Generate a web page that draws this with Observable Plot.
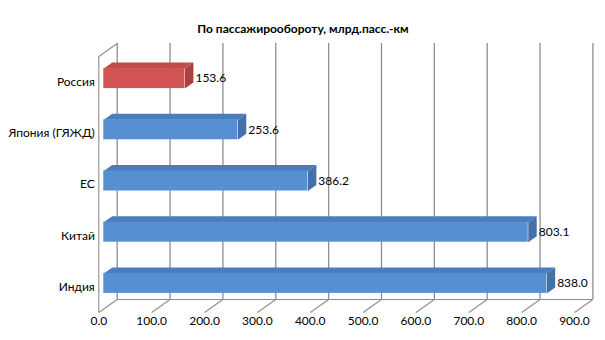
<!DOCTYPE html>
<html>
<head>
<meta charset="utf-8">
<script src="https://cdn.jsdelivr.net/npm/d3@7"></script>
<script src="https://cdn.jsdelivr.net/npm/@observablehq/plot@0.6"></script>
<style>
  html, body { margin: 0; padding: 0; background: #fff; }
  svg { display: block; }
</style>
</head>
<body>
<div id="chart"></div>
<script>
// ---- data ----
const title = "По пассажирообороту, млрд.пасс.-км";
const categories = ["Россия", "Япония (ГЯЖД)", "ЕС", "Китай", "Индия"];
const values = [153.6, 253.6, 386.2, 803.1, 838.0];
const xTicks = [0, 100, 200, 300, 400, 500, 600, 700, 800, 900];
const highlighted = "Россия";

// ---- layout ----
const W = 605, H = 340;
const mL = 98.3, mR = 31, mT = 56, mB = 28;
const xMax = 900, nCat = categories.length;
const kx = (W - mL - mR) / xMax;       // px per x unit (front plane)
const ky = (H - mT - mB) / nCat;       // px per category
const DEPTH_X = 18.4, DEPTH_Y = -13;   // oblique depth offset, px
const DXu = DEPTH_X / kx, DYu = DEPTH_Y / ky;
const f0 = 0.27, f1 = 0.73;            // bar front/back depth fraction
const half = 10 / ky;                  // half bar height

const palette = {
  blue: {front: "#5590d3", top: "#4a7dbf", side: "#4471a9"},
  red:  {front: "#d35553", top: "#c24c4a", side: "#a94341"}
};
const col = d => d.cat === highlighted ? palette.red : palette.blue;

const rows = categories.map((cat, i) => ({cat, value: values[i], i}));

function poly(d, verts, face) {
  return verts.map(([x, y, f]) => ({
    cat: d.cat, x: x + f * DXu, y: y + f * DYu, fill: col(d)[face]
  }));
}
const topPts = rows.flatMap(d => {
  const yt = d.i + 0.5 - half;
  return poly(d, [[0, yt, f0], [d.value, yt, f0], [d.value, yt, f1], [0, yt, f1]], "top");
});
const sidePts = rows.flatMap(d => {
  const yt = d.i + 0.5 - half, yb = d.i + 0.5 + half;
  return poly(d, [[d.value, yt, f0], [d.value, yt, f1], [d.value, yb, f1], [d.value, yb, f0]], "side");
});

const gridColor = "#8e8e8e";
const font = "Lato, 'Open Sans', sans-serif";

const chart = Plot.plot({
  width: W, height: H,
  marginLeft: mL, marginRight: mR, marginTop: mT, marginBottom: mB,
  style: {fontFamily: font, background: "#fff"},
  x: {domain: [0, xMax], label: null},
  y: {domain: [0, nCat], reverse: true, label: null},
  color: {type: "identity"},
  marks: [
    // back wall gridlines
    Plot.ruleX(xTicks, {x: t => t + DXu, y1: DYu, y2: nCat + DYu, stroke: gridColor, strokeWidth: 1.3}),
    // floor
    Plot.ruleY([nCat + DYu], {x1: DXu, x2: xMax + DXu, stroke: gridColor, strokeWidth: 1.1}),
    Plot.link(xTicks, {x1: t => t, y1: nCat, x2: t => t + DXu, y2: nCat + DYu, stroke: gridColor, strokeWidth: 1.1}),
    // left wall
    Plot.ruleX([0], {y1: 0, y2: nCat, stroke: gridColor, strokeWidth: 1.1}),
    Plot.link([0], {x1: 0, y1: 0, x2: DXu, y2: DYu, stroke: gridColor, strokeWidth: 1.1}),
    // bars
    Plot.line(topPts, {x: "x", y: "y", z: "cat", fill: "fill", stroke: "none", curve: "linear-closed"}),
    Plot.line(sidePts, {x: "x", y: "y", z: "cat", fill: "fill", stroke: "none", curve: "linear-closed"}),
    Plot.rect(rows, {
      x1: f0 * DXu, x2: d => d.value + f0 * DXu,
      y1: d => d.i + 0.5 + f0 * DYu - half, y2: d => d.i + 0.5 + f0 * DYu + half,
      fill: d => col(d).front
    }),
    // value labels
    Plot.text(rows, {
      x: d => d.value + f1 * DXu, y: d => d.i + 0.5 + f0 * DYu,
      text: d => d.value.toFixed(1), textAnchor: "start", dx: 2, fontSize: 12, fill: "#000"
    }),
    // axes
    Plot.axisX(xTicks, {tickSize: 0, tickPadding: 4, fontSize: 12, tickFormat: d3.format(".1f"), fill: "#000", label: null}),
    Plot.axisY(categories.map((c, i) => i + 0.5), {
      tickSize: 0, tickPadding: 4, fontSize: 12, fill: "#000",
      tickFormat: v => categories[Math.floor(v)], label: null
    }),
    // title
    Plot.text([title], {
      frameAnchor: "top", dx: W / 2 - (mL + (W - mL - mR) / 2), dy: 24 - mT,
      fontWeight: "bold", fontSize: 12, fill: "#000"
    })
  ]
});
document.getElementById("chart").appendChild(chart);
</script>
</body>
</html>
